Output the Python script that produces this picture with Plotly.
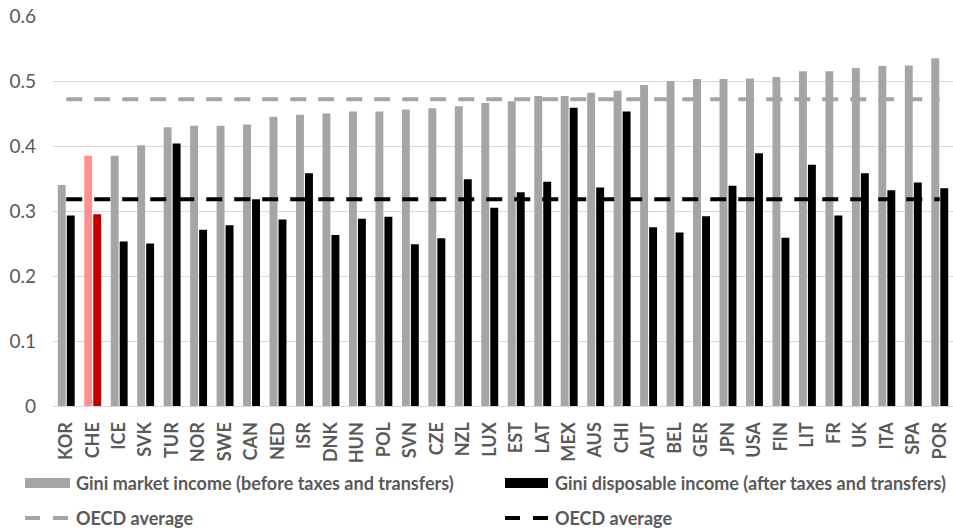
import plotly.graph_objects as go

# Gini coefficients by country (working-age population)
countries = ["KOR", "CHE", "ICE", "SVK", "TUR", "NOR", "SWE", "CAN", "NED", "ISR",
             "DNK", "HUN", "POL", "SVN", "CZE", "NZL", "LUX", "EST", "LAT", "MEX",
             "AUS", "CHI", "AUT", "BEL", "GER", "JPN", "USA", "FIN", "LIT", "FR",
             "UK", "ITA", "SPA", "POR"]
gini_market = [0.340, 0.385, 0.385, 0.401, 0.429, 0.431, 0.431, 0.433, 0.445, 0.448,
               0.450, 0.453, 0.453, 0.456, 0.458, 0.461, 0.466, 0.469, 0.477, 0.477,
               0.482, 0.485, 0.494, 0.500, 0.503, 0.503, 0.504, 0.506, 0.515, 0.515,
               0.520, 0.523, 0.524, 0.535]
gini_disposable = [0.293, 0.295, 0.253, 0.250, 0.404, 0.271, 0.278, 0.318, 0.287, 0.358,
                   0.263, 0.288, 0.291, 0.249, 0.258, 0.349, 0.305, 0.329, 0.345, 0.459,
                   0.336, 0.453, 0.275, 0.267, 0.292, 0.339, 0.389, 0.259, 0.371, 0.293,
                   0.358, 0.332, 0.344, 0.335]
oecd_market_avg = 0.472
oecd_disposable_avg = 0.318
highlight = "CHE"

GRAY = "#a5a5a5"
BLACK = "#000000"
TEXT = "#595959"
FONT = "Lato"

market_colors = ["#ff9191" if c == highlight else GRAY for c in countries]
disp_colors = ["#c00000" if c == highlight else BLACK for c in countries]

fig = go.Figure()
fig.add_trace(go.Bar(x=countries, y=gini_market, marker=dict(color=market_colors, line_width=0),
                     name="Gini market income (before taxes and transfers)"))
fig.add_trace(go.Bar(x=countries, y=gini_disposable, marker=dict(color=disp_colors, line_width=0),
                     name="Gini disposable income (after taxes and transfers)"))
fig.add_trace(go.Scatter(x=countries, y=[oecd_market_avg] * len(countries), mode="lines",
                         line=dict(color=GRAY, width=4, dash="16px,12px"), name="OECD average"))
fig.add_trace(go.Scatter(x=countries, y=[oecd_disposable_avg] * len(countries), mode="lines",
                         line=dict(color=BLACK, width=4, dash="16px,12px"), name="OECD average"))

# plot-area geometry in pixels, used to place the legend below the axis
W, H = 953, 528
L, R, T, B = 53, 0, 16, 122
pw, ph = W - L - R, H - T - B


def px_x(x):
    return (x - L) / pw


def px_y(y):
    return (H - B - y) / ph


shapes = []
annotations = []
legend_rows = [
    [("bar", GRAY, 25, 70, "Gini market income (before taxes and transfers)", 74),
     ("bar", BLACK, 505, 548, "Gini disposable income (after taxes and transfers)", 553)],
    [("dash", GRAY, 25, 70, "OECD average", 74),
     ("dash", BLACK, 505, 548, "OECD average", 553)],
]
row_y = [483, 518]
for row, yc in zip(legend_rows, row_y):
    for kind, col, x0, x1, label, tx in row:
        if kind == "bar":
            shapes.append(dict(type="rect", xref="paper", yref="paper",
                               x0=px_x(x0), x1=px_x(x1), y0=px_y(yc + 5), y1=px_y(yc - 5),
                               fillcolor=col, line_width=0))
        else:
            for a, b in [(x0, x0 + 15), (x0 + 28, x0 + 43)]:
                shapes.append(dict(type="line", xref="paper", yref="paper",
                                   x0=px_x(a), x1=px_x(b), y0=px_y(yc), y1=px_y(yc),
                                   line=dict(color=col, width=4)))
        annotations.append(dict(text=label, xref="paper", yref="paper", x=px_x(tx), y=px_y(yc),
                                xanchor="left", yanchor="middle", showarrow=False,
                                font=dict(family=FONT, size=18, color=TEXT, weight="bold")))

fig.update_layout(
    width=W, height=H,
    margin=dict(l=L, r=R, t=T, b=B),
    plot_bgcolor="white", paper_bgcolor="white",
    barmode="group", bargap=0.32, bargroupgap=0.12,
    showlegend=False,
    shapes=shapes, annotations=annotations,
    xaxis=dict(tickangle=-90, showgrid=False, showline=True, linecolor="#d9d9d9", linewidth=1,
               tickfont=dict(family=FONT, size=18, color=TEXT, weight="bold"),
               ticklabelstandoff=8, fixedrange=True),
    yaxis=dict(range=[0, 0.6], dtick=0.1, showgrid=True, gridcolor="#d9d9d9", gridwidth=1,
               zeroline=False, tickformat=".1~f",
               tickfont=dict(family=FONT, size=19, color=TEXT),
               ticklabelstandoff=16, fixedrange=True),
)

fig.write_html("out.html")
